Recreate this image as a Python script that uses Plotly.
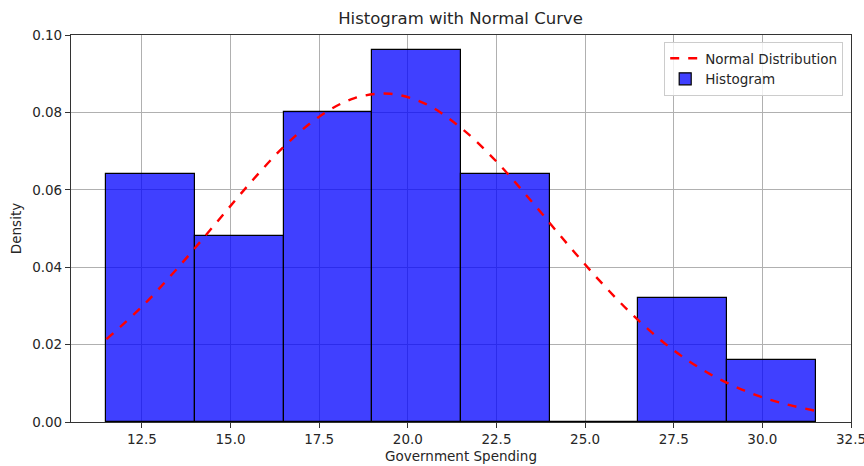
import plotly.graph_objects as go

# Histogram bins (edges) and density values
bin_edges = [11.5, 14.0, 16.5, 19.0, 21.5, 24.0, 26.5, 29.0, 31.5]
density = [0.064, 0.048, 0.080, 0.096, 0.064, 0.0, 0.032, 0.016]

# Normal curve
curve_x = [11.5, 12.5, 13.5, 14.5, 15.5, 16.5, 17.5, 18.5, 19.5, 20.5, 21.5,
           22.5, 23.5, 24.5, 25.5, 26.5, 27.5, 28.5, 29.5, 30.5, 31.5]
curve_y = [0.0214, 0.0298, 0.0397, 0.0504, 0.0612, 0.0711, 0.0789, 0.0837, 0.0848,
           0.0822, 0.0760, 0.0673, 0.0569, 0.0460, 0.0356, 0.0263, 0.0185, 0.0125,
           0.0081, 0.0050, 0.0029]

x_ticks = [12.5, 15.0, 17.5, 20.0, 22.5, 25.0, 27.5, 30.0, 32.5]
y_ticks = [0.00, 0.02, 0.04, 0.06, 0.08, 0.10]

centers = [(a + b) / 2 for a, b in zip(bin_edges[:-1], bin_edges[1:])]
widths = [b - a for a, b in zip(bin_edges[:-1], bin_edges[1:])]

FONT = "DejaVu Sans"
TXT = "#262626"

fig = go.Figure()
fig.add_trace(go.Bar(
    x=centers, y=density, width=widths,
    marker=dict(color="rgba(0,0,255,0.75)", line=dict(color="black", width=1.2)),
    name="Histogram", legendrank=2,
))
fig.add_trace(go.Scatter(
    x=curve_x, y=curve_y, mode="lines", line_shape="spline",
    line=dict(color="red", width=2.4, dash="dash"),
    name="Normal Distribution", legendrank=1,
))

axis_common = dict(
    showline=True, linecolor="#333333", linewidth=1.2, mirror=True,
    showgrid=True, gridcolor="#b0b0b0", gridwidth=1,
    ticks="outside", ticklen=5, tickcolor="#333333",
    tickfont=dict(family=FONT, size=13.5, color=TXT),
    zeroline=False, automargin=False, ticklabeloverflow="allow",
)

fig.update_layout(
    width=864, height=466,
    margin=dict(l=71, r=13, t=35, b=44),
    paper_bgcolor="white", plot_bgcolor="white",
    font=dict(family=FONT, color=TXT),
    title=dict(text="Histogram with Normal Curve", x=0.533, xanchor="center",
               y=1 - 18 / 466, yanchor="middle", font=dict(family=FONT, size=16.5, color=TXT)),
    bargap=0,
    showlegend=True,
    legend=dict(x=0.99, y=0.982, xanchor="right", yanchor="top",
                bgcolor="rgba(255,255,255,0.8)", bordercolor="#cccccc", borderwidth=1,
                font=dict(family=FONT, size=13.5, color=TXT),
                tracegroupgap=0, itemwidth=30),
    xaxis=dict(range=[10.5, 32.5], tickvals=x_ticks,
               ticktext=[f"{v:.1f}" for v in x_ticks],
               title=dict(text="Government Spending", font=dict(family=FONT, size=13.5, color=TXT), standoff=5),
               **axis_common),
    yaxis=dict(range=[0, 0.1], tickvals=y_ticks,
               ticktext=[f"{v:.2f}" for v in y_ticks],
               title=dict(text="Density", font=dict(family=FONT, size=13.5, color=TXT), standoff=7),
               **axis_common),
)

fig.write_html("out.html", config={"displayModeBar": False},
               post_script="document.body.style.margin='0';document.body.style.overflow='hidden';")
